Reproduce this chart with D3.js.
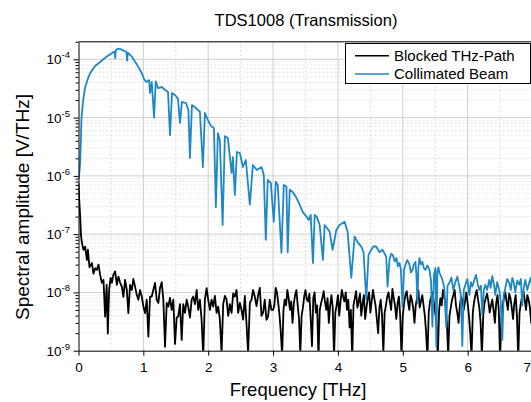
<!DOCTYPE html>
<html><head><meta charset="utf-8">
<script src="https://cdn.jsdelivr.net/npm/d3@7"></script>
<style>body{margin:0;background:#fff;} svg{display:block;font-family:"Liberation Sans",Arial,sans-serif;}</style>
</head><body><svg id="c" width="531" height="402"></svg>
<script>
const chartTitle = "TDS1008 (Transmission)";
const xLabel = "Frequency [THz]";
const yLabel = "Spectral amplitude [V/THz]";
const seriesNames = ["Blocked THz-Path", "Collimated Beam"];
const freqTicks = [0, 1, 2, 3, 4, 5, 6, 7];
const ampTickExponents = [-9, -8, -7, -6, -5, -4];

// [frequency THz, amplitude V/THz]
const blockedPath = [
[0.000,7.5e-7],[0.011,3.9e-7],[0.026,2.0e-7],[0.038,9.7e-8],[0.052,7.1e-8],[0.077,5.4e-8],[0.103,6.1e-8],[0.129,3.6e-8],
[0.145,5.4e-8],[0.169,2.7e-8],[0.206,3.2e-8],[0.231,2.1e-8],[0.257,2.6e-8],[0.283,2.43e-8],[0.308,3.0e-8],[0.334,2.0e-8],
[0.360,1.46e-8],[0.385,1.64e-8],[0.411,3.85e-9],[0.434,1.35e-8],[0.452,1.97e-9],[0.472,1.1e-8],[0.495,1.78e-8],[0.514,1.46e-8],
[0.538,2.0e-8],[0.565,2.3e-8],[0.591,1.35e-8],[0.615,1.87e-8],[0.642,1.46e-8],[0.668,1.26e-8],[0.692,8.4e-9],[0.718,1.64e-8],
[0.745,1.1e-8],[0.769,4.4e-9],[0.795,1.35e-8],[0.822,1.1e-8],[0.846,1.7e-8],[0.872,1.26e-8],[0.898,9.1e-9],[0.923,7.5e-9],
[0.949,1.1e-8],[0.975,8.5e-9],[1.000,5.8e-9],[1.026,4.4e-9],[1.052,7.5e-9],[1.077,1.75e-9],[1.103,8.5e-9],[1.129,8.5e-9],
[1.154,1.1e-8],[1.180,1.46e-8],[1.206,7.5e-9],[1.231,6.6e-9],[1.257,1.2e-8],[1.283,1.5e-8],[1.308,7.5e-9],[1.334,1.17e-9],
[1.360,6.6e-9],[1.385,5.7e-9],[1.411,8.1e-9],[1.437,5.0e-9],[1.462,7.5e-9],[1.488,1.3e-9],[1.514,3.7e-9],[1.538,3.85e-9],
[1.565,6.3e-9],[1.591,1.53e-9],[1.615,6.3e-9],[1.642,4.45e-9],[1.668,7.5e-9],[1.692,5.7e-9],[1.718,3.7e-9],[1.745,7.5e-9],
[1.769,8.5e-9],[1.795,6.3e-9],[1.822,1.1e-8],[1.846,5.0e-9],[1.872,7.5e-9],[1.898,3.4e-9],[1.923,8.0e-10],[1.949,7.5e-9],
[1.975,1.18e-8],[2.000,7.5e-9],[2.026,5.0e-9],[2.052,7.5e-9],[2.077,5.7e-9],[2.103,8.7e-9],[2.129,4.45e-9],[2.154,5.7e-9],
[2.180,3.4e-9],[2.206,9.0e-10],[2.231,6.3e-9],[2.257,8.7e-9],[2.283,7.5e-9],[2.308,3.95e-9],[2.334,6.3e-9],[2.360,4.45e-9],
[2.385,9.6e-9],[2.411,8.5e-9],[2.437,1.1e-8],[2.462,4.45e-9],[2.488,6.6e-9],[2.514,5.0e-9],[2.538,3.4e-9],[2.565,8.7e-9],
[2.591,2.85e-9],[2.615,9.0e-10],[2.642,6.6e-9],[2.668,7.5e-9],[2.692,1.1e-8],[2.718,8.5e-9],[2.745,5.8e-9],[2.769,8.9e-9],
[2.795,1.2e-8],[2.822,3.95e-9],[2.846,4.45e-9],[2.872,7.5e-9],[2.898,3.4e-9],[2.923,3.85e-9],[2.949,7.5e-9],[2.975,5.0e-9],
[3.00,5.0e-9],[3.02,6.0e-9],[3.04,1.2e-8],[3.06,1.0e-8],[3.08,6.5e-9],[3.10,4.0e-9],[3.12,2.0e-9],[3.14,8.0e-10],
[3.16,5.0e-9],[3.18,7.5e-9],[3.20,6.0e-9],[3.22,1.1e-8],[3.24,8.0e-9],[3.26,5.0e-9],[3.28,7.0e-9],[3.30,3.0e-9],
[3.32,6.5e-9],[3.34,9.0e-9],[3.36,1.1e-8],[3.38,6.0e-9],[3.40,3.5e-9],[3.42,9.0e-10],[3.44,4.0e-9],[3.46,5.5e-9],
[3.48,8.5e-9],[3.50,1.1e-8],[3.52,7.5e-9],[3.54,7.0e-9],[3.56,9.5e-9],[3.58,3.5e-9],[3.60,1.2e-9],[3.62,8.0e-9],
[3.64,1.0e-8],[3.66,4.5e-9],[3.68,6.0e-9],[3.70,7.0e-10],[3.72,5.0e-9],[3.74,6.5e-9],[3.76,8.0e-9],[3.78,1.05e-8],
[3.80,7.0e-9],[3.82,5.0e-9],[3.84,8.0e-9],[3.86,3.0e-9],[3.88,6.0e-9],[3.90,9.0e-9],[3.92,5.5e-9],[3.94,8.0e-10],
[3.96,4.5e-9],[3.98,6.0e-9],[4.00,9.0e-9],[4.02,4.0e-9],[4.04,7.0e-9],[4.06,1.1e-8],[4.08,8.5e-9],[4.10,7.0e-9],
[4.12,1.0e-8],[4.14,5.0e-9],[4.16,7.5e-9],[4.18,2.5e-9],[4.20,5.0e-9],[4.22,7.0e-10],[4.24,6.0e-9],[4.26,8.0e-9],
[4.28,1.05e-8],[4.30,5.5e-9],[4.32,7.0e-9],[4.34,9.5e-9],[4.36,4.0e-9],[4.38,6.5e-9],[4.40,9.0e-9],[4.42,3.5e-9],
[4.44,5.5e-9],[4.46,8.0e-9],[4.48,1.0e-8],[4.50,4.5e-9],[4.52,7.0e-9],[4.54,1.1e-8],[4.56,8.0e-9],[4.58,6.0e-9],
[4.60,3.5e-9],[4.62,2.0e-9],[4.64,5.5e-9],[4.66,7.5e-9],[4.68,4.0e-9],[4.70,9.0e-10],[4.72,4.5e-9],[4.74,6.0e-9],
[4.76,8.5e-9],[4.78,1.0e-8],[4.80,7.0e-9],[4.82,5.0e-9],[4.84,1.15e-8],[4.86,8.0e-9],[4.88,6.0e-9],[4.90,3.5e-9],
[4.92,6.5e-9],[4.94,8.5e-9],[4.96,4.0e-9],[4.98,8.0e-10],[5.00,4.0e-9],[5.02,6.5e-9],[5.04,9.0e-9],[5.06,1.05e-8],
[5.08,7.0e-9],[5.10,5.0e-9],[5.12,9.0e-9],[5.14,7.5e-9],[5.16,5.5e-9],[5.18,3.0e-9],[5.20,6.0e-9],[5.22,8.0e-9],
[5.24,1.1e-8],[5.26,5.5e-9],[5.28,7.0e-9],[5.30,9.0e-9],[5.32,6.0e-9],[5.34,4.0e-9],[5.36,2.0e-9],[5.38,7.0e-10],
[5.40,4.5e-9],[5.42,7.0e-9],[5.44,8.5e-9],[5.46,1.0e-8],[5.48,6.5e-9],[5.50,4.5e-9],[5.52,3.0e-9],[5.54,7.0e-10],
[5.56,5.0e-9],[5.58,8.0e-9],[5.60,6.0e-9],[5.62,1.1e-8],[5.64,8.5e-9],[5.66,6.0e-9],[5.68,3.0e-9],[5.70,8.0e-10],
[5.72,4.0e-9],[5.74,5.5e-9],[5.76,7.5e-9],[5.78,9.0e-9],[5.80,1.1e-8],[5.82,6.0e-9],[5.84,4.5e-9],[5.86,3.0e-9],
[5.88,6.0e-9],[5.90,8.5e-9],[5.92,7.0e-9],[5.94,5.0e-9],[5.96,7.0e-9],[5.98,1.0e-8],[6.00,6.5e-9],[6.02,4.0e-9],
[6.04,2.0e-9],[6.06,8.0e-10],[6.08,4.5e-9],[6.10,7.0e-9],[6.12,9.0e-9],[6.14,1.1e-8],[6.16,7.5e-9],[6.18,5.5e-9],
[6.20,3.0e-9],[6.22,8.0e-10],[6.24,4.0e-9],[6.26,6.5e-9],[6.28,8.0e-9],[6.30,9.5e-9],[6.32,7.0e-9],[6.34,4.5e-9],
[6.36,6.0e-9],[6.38,7.5e-9],[6.40,5.0e-9],[6.42,3.0e-9],[6.44,6.5e-9],[6.46,9.0e-9],[6.48,5.0e-9],[6.50,7.0e-10],
[6.52,3.5e-9],[6.54,6.0e-9],[6.56,8.0e-9],[6.58,1.0e-8],[6.60,7.0e-9],[6.62,5.0e-9],[6.64,9.5e-9],[6.66,8.0e-9],
[6.68,5.5e-9],[6.70,3.5e-9],[6.72,6.5e-9],[6.74,9.0e-9],[6.76,4.0e-9],[6.78,7.0e-10],[6.80,4.5e-9],[6.82,6.5e-9],
[6.84,8.5e-9],[6.86,1.05e-8],[6.88,7.5e-9],[6.90,5.0e-9],[6.92,9.0e-9],[6.94,7.5e-9],[6.96,5.5e-9],[6.98,3.0e-9],
[7.00,6.0e-9]
];

const collimatedBeam = [
[0.005,9.0e-7],[0.026,1.66e-6],[0.037,4.1e-6],[0.046,1.0e-5],[0.072,2.0e-5],[0.103,3.35e-5],[0.149,4.8e-5],[0.180,5.8e-5],
[0.257,7.7e-5],[0.334,9.0e-5],[0.426,1.1e-4],[0.518,1.29e-4],[0.557,1.37e-4],[0.565,1.05e-4],[0.575,1.42e-4],[0.595,1.5e-4],
[0.626,1.52e-4],[0.657,1.48e-4],[0.703,1.4e-4],[0.740,1.32e-4],[0.750,9.5e-5],[0.760,1.3e-4],[0.826,1.1e-4],[0.888,8.6e-5],
[0.949,6.6e-5],[0.980,5.6e-5],[1.011,4.6e-5],[1.042,4.1e-5],[1.088,4.4e-5],[1.103,2.64e-5],[1.129,4.1e-5],[1.165,1.0e-5],
[1.191,4.2e-5],[1.226,3.2e-5],[1.283,3.35e-5],[1.334,3.0e-5],[1.380,2.75e-5],[1.411,5.0e-6],[1.442,2.64e-5],[1.488,2.44e-5],
[1.534,2.1e-5],[1.565,8.1e-6],[1.595,1.87e-5],[1.657,1.78e-5],[1.695,1.35e-5],[1.718,2.03e-6],[1.749,1.64e-5],[1.811,1.46e-5],
[1.872,1.26e-5],[1.918,1.42e-6],[1.949,1.2e-5],[1.995,9.1e-6],[2.042,7.2e-6],[2.088,6.6e-6],[2.118,2.9e-7],[2.149,5.4e-6],
[2.180,4.1e-6],[2.222,1.44e-7],[2.257,4.8e-6],[2.303,4.45e-6],[2.360,1.12e-6],[2.380,2.1e-6],[2.411,4.7e-7],[2.442,2.57e-6],
[2.488,2.47e-6],[2.534,1.42e-6],[2.580,1.87e-6],[2.642,3.2e-7],[2.688,1.54e-6],[2.749,1.26e-6],[2.822,1.42e-6],[2.857,1.04e-6],
[2.888,8.0e-8],[2.918,8.5e-7],[2.965,7.6e-7],[3.011,1.62e-7],[3.042,7.9e-7],[3.072,7.0e-7],[3.129,4.8e-8],[3.165,7.0e-7],
[3.206,6.5e-7],[3.226,4.9e-8],[3.257,5.8e-7],[3.303,5.3e-7],[3.360,4.2e-7],[3.411,3.2e-7],[3.457,2.4e-7],[3.515,2.0e-7],
[3.549,1.75e-7],[3.580,2.14e-7],[3.615,3.2e-8],[3.642,2.14e-7],[3.672,2.0e-7],[3.718,1.44e-7],[3.769,3.6e-8],[3.795,1.44e-7],
[3.826,1.3e-7],[3.872,1.1e-7],[3.918,5.4e-8],[3.975,1.18e-7],[4.026,1.44e-7],[4.103,1.64e-7],[4.149,1.1e-7],[4.206,1.78e-8],
[4.257,9.1e-8],[4.303,7.3e-8],[4.360,6.1e-8],[4.395,4.9e-8],[4.437,7.5e-9],[4.472,4.4e-8],[4.514,5.4e-8],[4.549,6.2e-8],
[4.591,6.1e-8],[4.642,4.9e-8],[4.688,5.4e-8],[4.745,4.1e-8],[4.765,1.26e-8],[4.795,3.6e-8],[4.820,4.6e-8],[4.846,4.4e-8],
[4.875,3.4e-8],[4.903,3.9e-8],[4.925,2.8e-8],[4.949,3.2e-8],[4.970,2.5e-8],[4.995,5.7e-9],[5.020,2.4e-8],[5.042,3.0e-8],
[5.070,3.6e-8],[5.103,3.0e-8],[5.125,2.2e-8],[5.149,2.43e-8],[5.170,3.0e-8],[5.195,3.35e-8],[5.210,2.0e-8],[5.226,6.6e-9],
[5.240,2.6e-8],[5.257,3.9e-8],[5.280,3.0e-8],[5.303,3.35e-8],[5.325,2.6e-8],[5.349,2.43e-8],[5.380,2.9e-8],[5.411,2.43e-8],
[5.435,1.6e-8],[5.457,2.6e-9],[5.480,2.0e-8],[5.503,2.6e-8],[5.518,1.2e-9],[5.534,2.3e-8],[5.550,2.7e-8],[5.565,2.16e-8],
[5.590,1.9e-8],[5.611,1.64e-8],[5.640,1.2e-8],[5.669,2.56e-9],[5.690,1.3e-8],[5.718,1.46e-8],[5.750,1.8e-8],[5.780,1.1e-8],
[5.810,1.5e-8],[5.842,1.87e-8],[5.872,1.26e-8],[5.895,9.0e-9],[5.918,1.2e-9],[5.940,1.1e-8],[5.965,1.35e-8],[5.995,1.7e-8],
[6.026,9.1e-9],[6.050,1.5e-8],[6.072,1.26e-8],[6.100,1.6e-8],[6.129,2.0e-8],[6.155,1.4e-8],[6.180,1.1e-8],[6.205,1.3e-8],
[6.226,4.1e-9],[6.250,1.1e-8],[6.272,1.35e-8],[6.300,1.1e-8],[6.334,1.64e-8],[6.355,1.2e-8],[6.380,1.9e-8],[6.405,1.4e-8],
[6.426,9.1e-9],[6.455,1.5e-8],[6.488,1.1e-8],[6.510,7.0e-9],[6.534,1.53e-9],[6.555,9.0e-9],[6.580,1.18e-8],[6.610,1.7e-8],
[6.642,1.46e-8],[6.665,1.1e-8],[6.688,1.78e-8],[6.710,1.5e-8],[6.734,1.0e-8],[6.765,1.6e-8],[6.795,1.35e-8],[6.820,1.7e-8],
[6.842,6.0e-9],[6.865,1.2e-8],[6.888,1.64e-8],[6.920,1.1e-8],[6.949,1.46e-8],[6.975,1.8e-8],[7.000,1.1e-8]
];

const colors = ["#000000", "#1e87c6"];

const svg = d3.select("#c");
const L = 78.5, R = 532.5, T = 41.8, B = 350.7;
const x = d3.scaleLinear().domain([0, 7]).range([L, R]);
const y = d3.scaleLog().domain([1e-9, 2e-4]).range([B, T]);

const majorY = ampTickExponents.map(e => Math.pow(10, e));
const minorY = [];
ampTickExponents.forEach(e => { for (let k = 2; k <= 9; k++) { const v = k * Math.pow(10, e); if (v <= 2e-4) minorY.push(v); } });
const minorX = freqTicks.slice(0, -1).map(f => f + 0.5);

// grid
const g = svg.append("g");
g.selectAll(".gmx").data(minorX).enter().append("line")
  .attr("x1", d => x(d)).attr("x2", d => x(d)).attr("y1", T).attr("y2", B)
  .attr("stroke", "#dcdcdc").attr("stroke-dasharray", "2,2");
g.selectAll(".gmy").data(minorY).enter().append("line")
  .attr("x1", L).attr("x2", R).attr("y1", d => y(d)).attr("y2", d => y(d))
  .attr("stroke", "#e2e2e2").attr("stroke-dasharray", "2,2");
g.selectAll(".gMx").data(freqTicks.slice(1)).enter().append("line")
  .attr("x1", d => x(d)).attr("x2", d => x(d)).attr("y1", T).attr("y2", B)
  .attr("stroke", "#cfcfcf");
g.selectAll(".gMy").data(majorY.slice(1)).enter().append("line")
  .attr("x1", L).attr("x2", R).attr("y1", d => y(d)).attr("y2", d => y(d))
  .attr("stroke", "#cfcfcf");

// data
svg.append("clipPath").attr("id", "clip").append("rect")
  .attr("x", L).attr("y", T).attr("width", R - L).attr("height", B - T);
const line = d3.line().x(d => x(d[0])).y(d => y(d[1]));
const plot = svg.append("g").attr("clip-path", "url(#clip)");
[blockedPath, collimatedBeam].forEach((s, i) => {
  plot.append("path").datum(s).attr("d", line).attr("fill", "none")
    .attr("stroke", colors[i]).attr("stroke-width", 1.8).attr("stroke-linejoin", "round");
});

// frame top
svg.append("line").attr("x1", L).attr("x2", R).attr("y1", T).attr("y2", T).attr("stroke", "#000");

// axes
const xa = svg.append("g").attr("transform", `translate(0,${B})`)
  .call(d3.axisBottom(x).tickValues(freqTicks).tickSize(5).tickSizeOuter(0).tickFormat(d3.format("d")));
xa.selectAll("text").attr("font-size", 13.5).attr("fill", "#000").attr("dy", "0.95em").attr("font-family", "Liberation Sans, Arial, sans-serif");
xa.selectAll(".tick").filter(d => d === 7).select("text").attr("text-anchor", "end").attr("x", -2);
svg.append("g").attr("transform", `translate(${L},0)`)
  .call(d3.axisLeft(y).tickValues(majorY).tickSize(5).tickSizeOuter(0).tickFormat(""));
svg.append("g").attr("transform", `translate(${L},0)`)
  .call(d3.axisLeft(y).tickValues(minorY).tickSize(3).tickSizeOuter(0).tickFormat(""))
  .select(".domain").remove();
svg.selectAll(".domain").attr("stroke", "#000");
svg.selectAll(".tick line").attr("stroke", "#000");

const yl = svg.append("g").selectAll("text").data(ampTickExponents).enter().append("text")
  .attr("x", 70).attr("y", d => y(Math.pow(10, d)) + 5)
  .attr("text-anchor", "end").attr("font-size", 13.5).attr("fill", "#000");
yl.append("tspan").text("10");
yl.append("tspan").attr("font-size", 9.5).attr("dy", -6).text(d => String(d));

// labels
svg.append("text").attr("x", 306).attr("y", 26).attr("text-anchor", "middle")
  .attr("font-size", 16.5).text(chartTitle);
svg.append("text").attr("x", 298).attr("y", 396).attr("text-anchor", "middle")
  .attr("font-size", 18.5).text(xLabel);
svg.append("text").attr("transform", "translate(29,207) rotate(-90)").attr("text-anchor", "middle")
  .attr("font-size", 19).text(yLabel);

// legend
const lg = svg.append("g");
lg.append("rect").attr("x", 345.5).attr("y", 43.5).attr("width", 185).attr("height", 40)
  .attr("fill", "#fff").attr("stroke", "#000");
seriesNames.forEach((n, i) => {
  const yy = 55.7 + i * 18.3;
  lg.append("line").attr("x1", 355).attr("x2", 389).attr("y1", yy).attr("y2", yy)
    .attr("stroke", colors[i]).attr("stroke-width", 1.5);
  lg.append("text").attr("x", 394).attr("y", yy).attr("dy", "0.35em")
    .attr("font-size", 15).text(n);
});
</script></body></html>
